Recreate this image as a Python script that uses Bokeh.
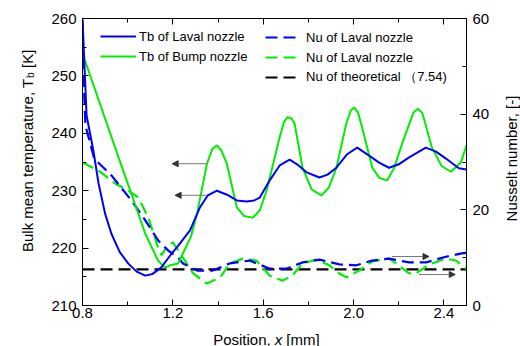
import math
from bokeh.plotting import figure
from bokeh.models import (Range1d, LinearAxis, FixedTicker, Legend, LegendItem,
                          Label, Arrow, NormalHead)
from bokeh.embed import file_html
from bokeh.resources import INLINE

# ---------------- data ----------------
X_TB_LAVAL = [0.800, 0.818, 0.848, 0.871, 0.900, 0.928, 0.965, 1.003, 1.040, 1.078, 1.110,
              1.148, 1.190, 1.223, 1.276, 1.320, 1.355, 1.395, 1.440, 1.483, 1.527, 1.560,
              1.585, 1.629, 1.673, 1.717, 1.750, 1.792, 1.849, 1.885, 1.924, 1.970, 2.016,
              2.069, 2.113, 2.157, 2.200, 2.246, 2.320, 2.365, 2.409, 2.466, 2.500]
TB_LAVAL = [260.0, 243.1, 237.0, 231.3, 226.0, 222.5, 219.3, 217.3, 215.9, 215.2, 215.5,
            216.6, 218.8, 220.4, 223.1, 227.1, 229.2, 230.0, 229.3, 228.3, 228.1, 228.3,
            228.8, 231.8, 234.4, 235.4, 234.6, 233.2, 232.3, 232.8, 234.0, 236.3, 237.5,
            236.1, 234.9, 234.0, 234.6, 235.8, 237.5, 236.8, 235.6, 233.9, 233.7]

X_TB_BUMP = [0.800, 0.972, 1.016, 1.078, 1.135, 1.166, 1.188, 1.223, 1.245, 1.280, 1.307,
             1.351, 1.375, 1.395, 1.415, 1.439, 1.483, 1.515, 1.554, 1.585, 1.615, 1.673,
             1.692, 1.708, 1.725, 1.739, 1.774, 1.815, 1.858, 1.890, 1.924, 1.968, 1.988,
             2.003, 2.020, 2.038, 2.083, 2.115, 2.149, 2.180, 2.215, 2.265, 2.285, 2.305,
             2.347, 2.390, 2.431, 2.475, 2.500]
TB_BUMP = [253.9, 234.4, 229.5, 222.5, 217.8, 216.6, 217.0, 217.3, 219.1, 222.0, 226.0,
           234.7, 237.3, 237.9, 237.0, 234.7, 227.1, 225.6, 225.3, 226.6, 230.0, 239.3,
           242.0, 242.8, 242.6, 241.7, 234.0, 230.2, 229.2, 230.5, 234.0, 241.7, 244.0,
           244.5, 243.6, 241.0, 234.0, 232.2, 231.8, 234.0, 238.2, 243.6, 244.3, 243.5,
           237.5, 234.3, 233.3, 234.9, 237.9]

X_NU_LAVAL = [0.800, 0.803, 0.813, 0.852, 0.928, 1.016, 1.078, 1.135, 1.179, 1.223, 1.245,
              1.307, 1.377, 1.452, 1.540, 1.629, 1.703, 1.774, 1.849, 1.937, 2.012, 2.083,
              2.157, 2.246, 2.320, 2.409, 2.479, 2.500]
NU_LAVAL = [59.5, 50.0, 37.6, 30.7, 27.2, 22.0, 17.8, 13.6, 11.5, 10.0, 8.8,
            7.3, 7.3, 8.8, 9.4, 7.7, 7.7, 9.0, 9.6, 8.6, 8.4, 9.4,
            9.8, 9.0, 9.0, 10.2, 10.9, 11.0]

X_NU_BUMP = [0.800, 0.871, 0.945, 1.003, 1.047, 1.091, 1.135, 1.150, 1.175, 1.200, 1.245,
             1.290, 1.350, 1.410, 1.452, 1.510, 1.570, 1.629, 1.686, 1.730, 1.774, 1.835,
             1.893, 1.937, 1.968, 2.025, 2.083, 2.157, 2.188, 2.246, 2.276, 2.335, 2.409,
             2.453, 2.500]
NU_BUMP = [29.9, 28.2, 25.5, 24.0, 22.6, 18.4, 12.1, 10.5, 12.5, 13.2, 10.0,
           6.7, 4.6, 5.9, 8.8, 9.8, 9.4, 6.2, 5.2, 6.3, 8.8, 9.6,
           8.4, 6.7, 5.9, 7.3, 9.2, 9.8, 8.8, 6.7, 6.7, 8.6, 9.8,
           9.4, 7.7]

X_NU_THEORY = [0.8, 2.5]
NU_THEORY = [7.54, 7.54]

X_TICKS = [0.8, 1.2, 1.6, 2.0, 2.4]
X_TICK_LABELS = ["0.8", "1.2", "1.6", "2.0", "2.4"]
X_MINOR = [1.0, 1.4, 1.8, 2.2]
YL_TICKS = [210, 220, 230, 240, 250, 260]
YL_MINOR = [215, 225, 235, 245, 255]
YR_TICKS = [0, 20, 40, 60]
YR_MINOR = [10, 30, 50]

LEG1 = ["Tb of Laval nozzle", "Tb of Bump nozzle"]
LEG2 = ["Nu of Laval nozzle", "Nu of Laval nozzle", "Nu of theoretical \uff087.54)"]

BLUE = "#0000FF"
GREEN = "#00EE00"
FONT = "Liberation Sans"

# ---------------- layout constants (pixels) ----------------
W, H = 520, 346
FL, FR, FT, FB = 82, 467, 18, 305
X0, X1 = 0.8, 2.5
Y0, Y1 = 210, 260

p = figure(width=W, height=H, output_backend="svg", toolbar_location=None,
           x_range=Range1d(X0, X1), y_range=Range1d(Y0, Y1),
           x_axis_type=None, y_axis_type=None,
           min_border_left=FL, min_border_right=W - FR, min_border_top=FT,
           min_border_bottom=H - FB)
p.extra_y_ranges = {"nu": Range1d(0, 60)}
p.xgrid.visible = False
p.ygrid.visible = False
p.outline_line_color = "black"
p.background_fill_color = "white"
p.border_fill_color = "white"


def style_axis(ax, standoff):
    ax.axis_line_color = "black"
    ax.axis_line_width = 1
    ax.major_tick_in = 6
    ax.major_tick_out = 0
    ax.minor_tick_in = 4
    ax.minor_tick_out = 0
    ax.major_tick_line_color = "black"
    ax.minor_tick_line_color = "black"
    ax.major_label_text_font = FONT
    ax.major_label_text_font_size = "15px"
    ax.major_label_text_color = "black"
    ax.major_label_standoff = standoff


xb = LinearAxis(ticker=FixedTicker(ticks=X_TICKS, minor_ticks=X_MINOR),
                major_label_overrides={t: s for t, s in zip(X_TICKS, X_TICK_LABELS)})
style_axis(xb, 2)
p.add_layout(xb, "below")

xt = LinearAxis(ticker=FixedTicker(ticks=X_TICKS, minor_ticks=X_MINOR),
                major_label_overrides={t: "" for t in X_TICKS})
style_axis(xt, 0)
xt.major_label_text_font_size = "0px"
p.add_layout(xt, "above")

yl = LinearAxis(ticker=FixedTicker(ticks=YL_TICKS, minor_ticks=YL_MINOR))
style_axis(yl, 6)
p.add_layout(yl, "left")

yr = LinearAxis(y_range_name="nu", ticker=FixedTicker(ticks=YR_TICKS, minor_ticks=YR_MINOR))
style_axis(yr, 6)
p.add_layout(yr, "right")

# ---------------- lines ----------------
DASH = "12 6"
r_th = p.line(X_NU_THEORY, NU_THEORY, y_range_name="nu", line_color="black",
              line_width=2.2, line_dash=DASH)
r_nb = p.line(X_NU_BUMP, NU_BUMP, y_range_name="nu", line_color=GREEN,
              line_width=2.2, line_dash=DASH)
r_nl = p.line(X_NU_LAVAL, NU_LAVAL, y_range_name="nu", line_color=BLUE,
              line_width=2.2, line_dash=DASH)
r_tb = p.line(X_TB_BUMP, TB_BUMP, line_color=GREEN, line_width=2)
r_tl = p.line(X_TB_LAVAL, TB_LAVAL, line_color=BLUE, line_width=2)

# ---------------- arrows ----------------
ARROWS_LEFT = [(1.35, 1.197, 234.7), (1.35, 1.21, 229.2)]
ARROWS_RIGHT = [(2.17, 2.334, 10.24), (2.29, 2.45, 6.48)]
for xs, xe, yy in ARROWS_LEFT:
    p.add_layout(Arrow(end=NormalHead(size=6, fill_color="#333333", line_color="#333333"),
                       x_start=xs, y_start=yy, x_end=xe, y_end=yy,
                       line_color="#777777", line_width=1))
for xs, xe, yy in ARROWS_RIGHT:
    p.add_layout(Arrow(end=NormalHead(size=6, fill_color="#333333", line_color="#333333"),
                       x_start=xs, y_start=yy, x_end=xe, y_end=yy, y_range_name="nu",
                       line_color="#777777", line_width=1))

# ---------------- legends ----------------
def make_legend(items, loc, standoff):
    return Legend(items=items, location=loc, orientation="vertical",
                  glyph_width=36, glyph_height=20, label_height=20, label_standoff=standoff,
                  spacing=0, padding=0, margin=0,
                  label_text_font=FONT, label_text_font_size="13px",
                  label_text_color="black",
                  background_fill_alpha=0, border_line_color=None)


leg1 = make_legend([LegendItem(label=LEG1[0], renderers=[r_tl]),
                    LegendItem(label=LEG1[1], renderers=[r_tb])], (18, 239), 3)
leg2 = make_legend([LegendItem(label=LEG2[0], renderers=[r_nl]),
                    LegendItem(label=LEG2[1], renderers=[r_nb]),
                    LegendItem(label=LEG2[2], renderers=[r_th])], (183, 218), 5)
p.add_layout(leg1, "center")
p.add_layout(leg2, "center")

# ---------------- axis titles (placed in side panels so they are not clipped) ----------------
def px_x(px):
    return X0 + (px - FL) * (X1 - X0) / (FR - FL)


def px_y(py):
    return Y1 - (py - FT) * (Y1 - Y0) / (FB - FT)


def lab(side, text, px, py, size="15px", angle=0.0, align="left", style="normal"):
    p.add_layout(Label(text=text, x=px_x(px), y=px_y(py), x_units="data", y_units="data",
                       angle=angle, text_align=align, text_baseline="alphabetic",
                       text_font=FONT, text_font_size=size, text_color="black",
                       text_font_style=style), side)


A = math.pi / 2
# side panels only reserve room; every text is placed by data coordinates
lab("left", "Bulk mean temperature, T", 26.5, 251.5, angle=A)
lab("right", "b", 30.0, 77.5, size="10px", angle=A)
lab("left", "[K]", 26.5, 67.5, angle=A)
lab("right", "Nusselt number, [-]", 512, 158, angle=A, align="center")
lab("below", "Position,", 213, 338.5)
lab("left", "x", 274.7, 338.5, style="italic")
lab("above", "[mm]", 286.4, 338.5)

open("out.html", "w").write(file_html(p, INLINE))
